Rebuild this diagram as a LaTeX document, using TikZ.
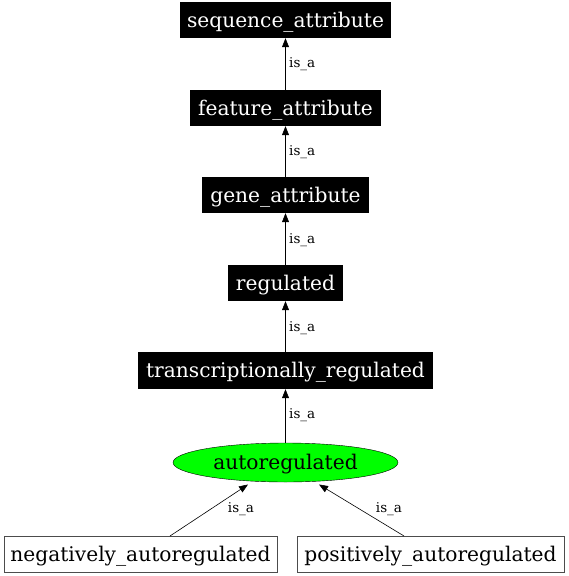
\documentclass[tikz,border=0pt]{standalone}
\usepackage{fontspec}
\setmainfont{DejaVu Serif}
\usetikzlibrary{arrows.meta,shapes.geometric}
\begin{document}
\begin{tikzpicture}[x=1pt,y=-1pt,
  txt/.style={inner sep=0pt,text height=17pt,text depth=3pt,font=\fontsize{20.2}{23}\selectfont},
  blk/.style={txt,fill=black,text=white},
  wbox/.style={txt,draw=black!70,fill=white},
  ell/.style={txt,ellipse,draw=black,fill=green},
  edge/.style={draw=black,-{Triangle[length=9pt,width=7pt]},line width=0.6pt},
  lbl/.style={font=\fontsize{13.5}{15}\selectfont,inner sep=0pt}]
\useasboundingbox (0,0) rectangle (569,576);
\node[blk,minimum width=211pt,minimum height=36pt] (sa) at (285.5,20) {sequence\_attribute};
\node[blk,minimum width=191pt,minimum height=36pt] (fa) at (285.5,108) {feature\_attribute};
\node[blk,minimum width=167pt,minimum height=36pt] (ga) at (285.5,195) {gene\_attribute};
\node[blk,minimum width=115pt,minimum height=36pt] (rg) at (285.5,283) {regulated};
\node[blk,minimum width=295pt,minimum height=37pt] (tr) at (285.5,370.5) {transcriptionally\_regulated};
\node[ell,minimum width=225pt,minimum height=39pt] (au) at (285.5,462.5) {autoregulated};
\node[wbox,minimum width=273pt,minimum height=36pt] (na) at (140.5,554) {negatively\_autoregulated};
\node[wbox,minimum width=267pt,minimum height=36pt] (pa) at (430.5,554) {positively\_autoregulated};
\draw[edge] (fa) -- (sa);
\draw[edge] (ga) -- (fa);
\draw[edge] (rg) -- (ga);
\draw[edge] (tr) -- (rg);
\draw[edge] (au) -- (tr);
\coordinate (n0) at (170,536);
\coordinate (p0) at (404,536);
\draw[edge] (n0) -- (248,484.5);
\draw[edge] (p0) -- (319,484.5);
\node[lbl,anchor=west] (l1) at (289,64) {is\_a};
\node[lbl,anchor=west] (l2) at (289,152) {is\_a};
\node[lbl,anchor=west] (l3) at (289,240) {is\_a};
\node[lbl,anchor=west] (l4) at (289,328) {is\_a};
\node[lbl,anchor=west] (l5) at (289,415) {is\_a};
\node[lbl] (l6) at (241,509) {is\_a};
\node[lbl] (l7) at (389,509) {is\_a};
\end{tikzpicture}
\end{document}
